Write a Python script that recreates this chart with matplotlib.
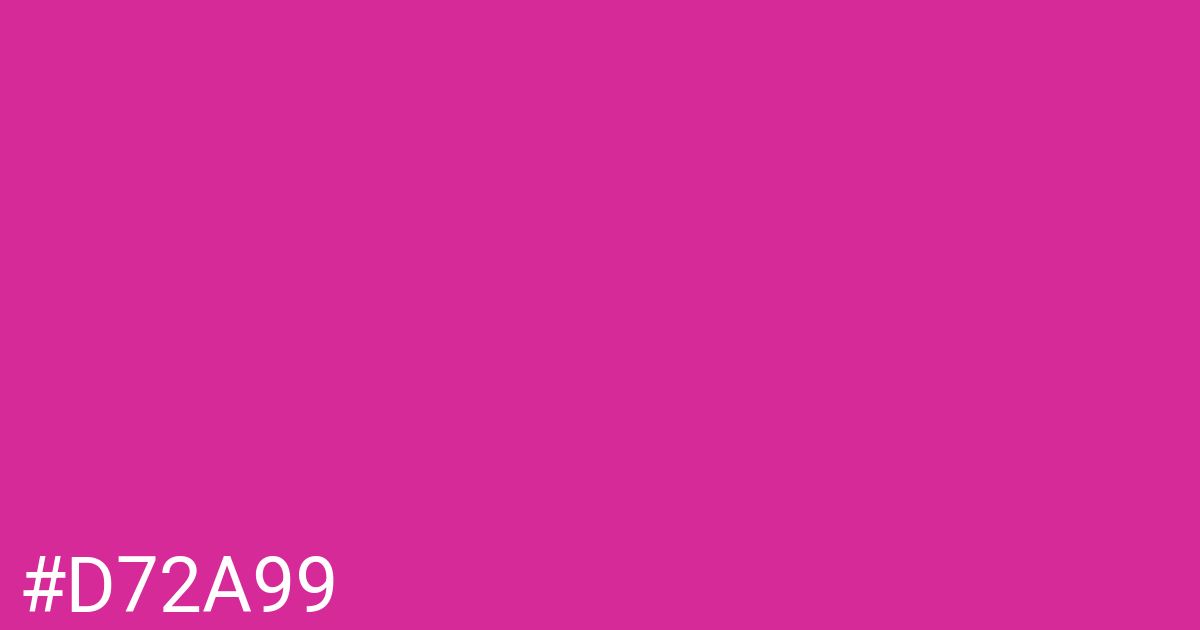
import matplotlib.pyplot as plt

# swatch colour and its label
swatch_hex = "#D72A99"
label_text = "#D72A99"

W, H = 1200, 630
fig = plt.figure(figsize=(W / 100, H / 100), dpi=100)
fig.patch.set_facecolor(swatch_hex)

# label in bottom left corner, positions in pixels from top-left
fig.text(
    18.5 / W,
    1 - 612 / H,
    label_text,
    color="white",
    fontsize=55.3,
    family="Roboto",
    ha="left",
    va="baseline",
)

fig.savefig("out.png", dpi=100, facecolor=fig.get_facecolor())
